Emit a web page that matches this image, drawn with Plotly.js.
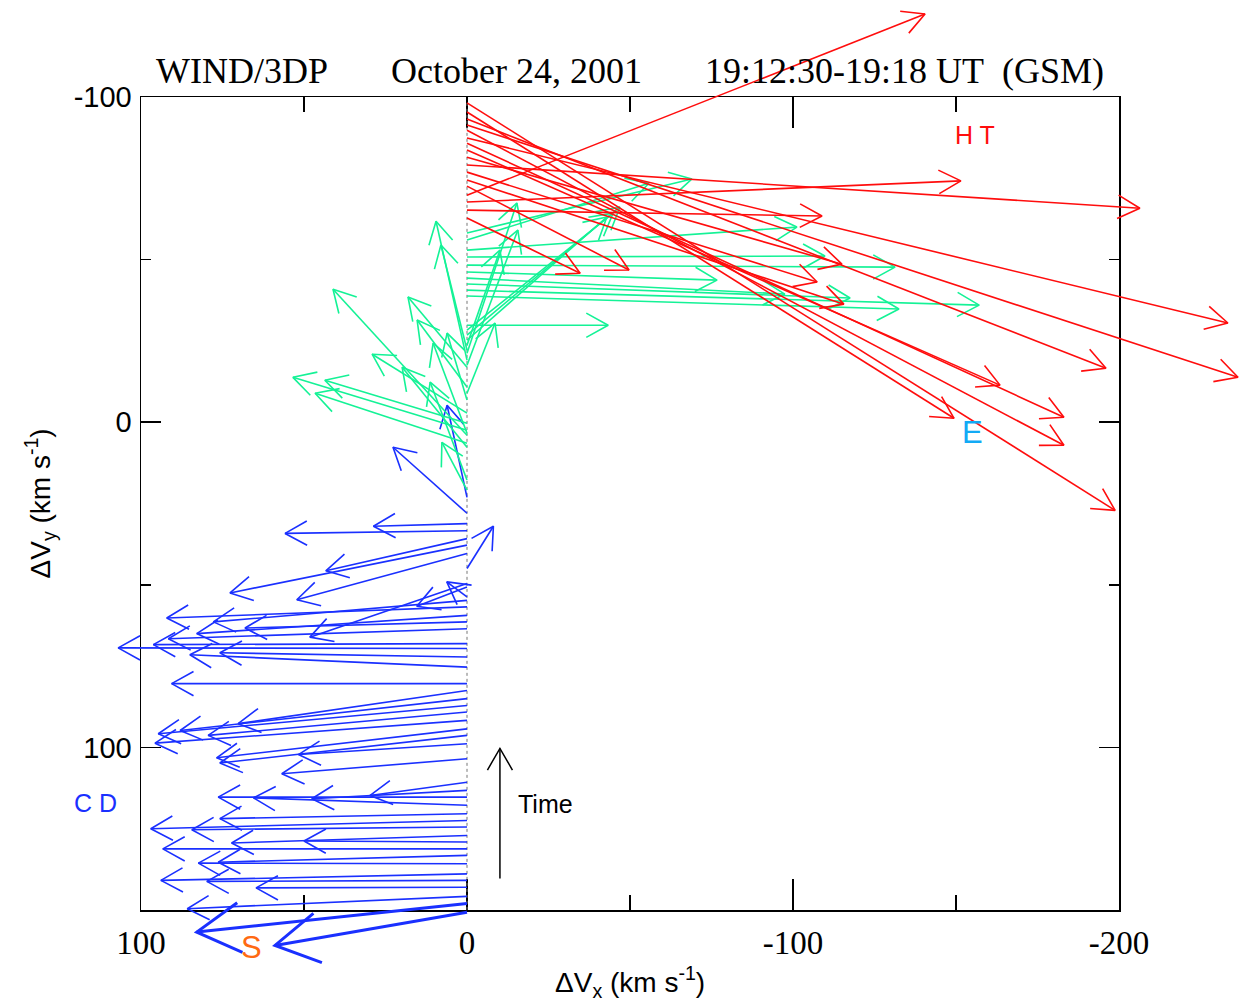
<!DOCTYPE html>
<html>
<head>
<meta charset="utf-8">
<script src="https://cdn.plot.ly/plotly-3.0.1.min.js"></script>
<style>html,body{margin:0;padding:0;background:#fff;}</style>
</head>
<body>
<div id="chart" style="width:1243px;height:1006px;"></div>
<script>
// ---------------- data ----------------
// every arrow starts at dVx = 0 (the time column) at tailY, ends at (headX, headY)
const redTailY  = [-98.2,-95.4,-93.2,-91.4,-89.8,-87.4,-85.8,-83.7,-81.5,-79.1,-76.9,-74.5,-72.6,-69.8,-67.7,-65.2,-62.8];
const redHeadX  = [-198.8,-149.4,-196.0,-236.5,-183.1,-233.4,-183.1,-163.5,-115.0,-206.4,-107.4,-115.6,-49.7,-140.5,-151.5,-108.9,-34.7];
const redHeadY  = [27.1,-1.2,-16.6,-13.8,7.1,-30.5,-1.5,-11.4,-48.6,-65.8,-43.1,-36.3,-46.8,-125.5,-74.2,-63.4,-45.8];

const greenTailY = [-58.2,-56.0,-52.9,-50.8,-48.3,-46.2,-44.3,-42.5,-40.6,-38.8,-29.8,-26.8,-28.3,-25.2,-21.2,-17.5,-23.7,-8.9,-19.1,-22.2,-16.9,4.0,-10.8,-6.8,-2.8,3.4,7.7,2.5,0.3,6.5,17.8,20.9];
const greenHeadX = [-69.0,-55.8,-101.2,-109.8,-131.3,-76.7,-97.5,-117.5,-157.1,-132.5,-43.3,-46.9,-44.8,-42.9,-15.3,-15.6,-10.1,-8.6,9.5,8.0,18.1,41.1,15.3,6.1,29.1,10.4,19.9,53.4,43.6,46.6,11.3,7.7];
const greenHeadY = [-74.8,-73.5,-60.0,-51.1,-47.7,-43.7,-39.4,-38.2,-36.0,-34.8,-29.8,-66.2,-64.3,-63.1,-67.4,-59.1,-52.9,-30.5,-61.8,-54.5,-38.5,-40.9,-31.4,-27.4,-20.9,-24.3,-16.9,-13.8,-12.9,-8.9,-12.3,6.2];

const blueTailY = [23.1,28.0,31.2,33.4,45.0,35.8,37.8,40.4,50.7,53.7,56.8,54.8,59.4,61.4,68.1,63.5,49.6,69.6,75.3,72.2,
                   80.4,82.5,85.0,87.1,89.1,91.7,98.9,94.3,96.3,103.5,110.7,113.2,115.3,117.8,120.4,122.5,124.5,129.1,127.1,131.2,133.2,135.8,138.9,140.9,143.0,145.8];
const blueHeadX = [6.1,22.7,28.7,55.8,-8.1,43.3,72.7,52.2,15.4,6.2,92.1,77.8,82.9,68.1,96.2,91.6,48.2,107.0,85.0,75.8,
                   90.6,70.2,88.0,94.7,79.4,95.7,51.7,76.8,75.8,56.8,29.8,47.6,76.3,65.5,75.8,97.0,84.4,50.0,72.2,93.3,76.3,82.4,93.9,79.8,64.7,85.8];
const blueHeadY = [-5.2,7.7,32.0,34.2,32.0,45.7,52.5,54.6,56.6,49.1,60.2,61.4,65.0,63.3,68.4,66.6,66.1,69.4,71.5,70.9,
                   80.4,92.7,94.8,95.8,96.3,98.7,102.2,103.2,104.8,108.1,114.8,115.8,115.3,115.5,121.9,125.0,125.3,128.8,129.4,131.2,135.3,135.6,140.9,141.2,143.2,149.6];

// thick "S" arrows
const sTailY = [148.0,150.7];
const sHeadX = [82.9,58.9];
const sHeadY = [156.8,160.9];

// "Time" arrow
const timeX = [-10.1];
const timeY0 = [140.3];
const timeY1 = [100.3];

// ticks
const xTickVals = [100,0,-100,-200];
const xTickText = ['100','0','-100','-200'];
const yTickVals = [-100,0,100];
const yTickText = ['-100','0','100'];
const xMinorVals = [50,-50,-150];
const yMinorVals = [-50,50];

// text labels
const labelText  = ['H T','E','C D','S','Time'];
const labelX     = [-155.8,-155.0,114.1,66.0,-15.0];
const labelY     = [-88.3,3.1,117.2,161.6,117.5];

// ---------------- geometry ----------------
const W = 1243, H = 1006;
const FL = 141, FR = 1119, FT = 97, FB = 910;   // frame in px
const XR = [100,-200], YR = [150,-100];
const kx = (FR-FL)/(XR[1]-XR[0]);
const ky = (FT-FB)/(YR[1]-YR[0]);
const toPx = v => FL + (v-XR[0])*kx, fromPx = p => XR[0] + (p-FL)/kx;
const toPy = v => FB + (v-YR[0])*ky, fromPy = p => YR[0] + (p-FB)/ky;

function arrowPath(tx, ty, hx, hy, L, angDeg) {
  const xs = [], ys = [];
  const a = angDeg*Math.PI/180;
  for (let i=0;i<hx.length;i++){
    const x0=toPx(tx[i]), y0=toPy(ty[i]), x1=toPx(hx[i]), y1=toPy(hy[i]);
    const dx=x1-x0, dy=y1-y0, d=Math.hypot(dx,dy)||1;
    const bx=-dx/d, by=-dy/d;
    const arms=[1,-1].map(s=>{
      const c=Math.cos(s*a), sn=Math.sin(s*a);
      return [x1+L*(bx*c-by*sn), y1+L*(bx*sn+by*c)];
    });
    xs.push(tx[i], hx[i], null, fromPx(arms[0][0]), hx[i], fromPx(arms[1][0]), null);
    ys.push(ty[i], hy[i], null, fromPy(arms[0][1]), hy[i], fromPy(arms[1][1]), null);
  }
  return {xs, ys};
}
const zeros = n => new Array(n).fill(0);

function arrowTrace(name, tailX, tailY, headX, headY, color, width, L, ang){
  const p = arrowPath(tailX, tailY, headX, headY, L, ang);
  return {type:'scatter', mode:'lines', name, x:p.xs, y:p.ys, xaxis:'x2', yaxis:'y2',
          line:{color, width}, hoverinfo:'skip', showlegend:false, connectgaps:false};
}

const RED='#ff0d0d', GREEN='#14f296', BLUE='#1a30ff', SKY='#12aaf5', ORANGE='#ff6a12';

const traces = [
  {type:'scatter', mode:'lines', x:[], y:[], xaxis:'x', yaxis:'y', showlegend:false, hoverinfo:'skip'},
  arrowTrace('blue', zeros(blueTailY.length), blueTailY, blueHeadX, blueHeadY, BLUE, 1.6, 25, 29),
  arrowTrace('green', zeros(greenTailY.length), greenTailY, greenHeadX, greenHeadY, GREEN, 1.6, 25, 29),
  arrowTrace('red', zeros(redTailY.length), redTailY, redHeadX, redHeadY, RED, 1.6, 25, 28),
  arrowTrace('S', zeros(sTailY.length), sTailY, sHeadX, sHeadY, BLUE, 3, 50, 30),
  arrowTrace('time', timeX, timeY0, timeX, timeY1, '#000', 1.5, 25, 30)
];

const allTails = redTailY.concat(greenTailY, blueTailY, sTailY);

const labelColors = [RED, SKY, BLUE, ORANGE, '#000'];
const labelSizes  = [25, 31, 25, 31, 25];
const annotations = labelText.map((t,i)=>({
  xref:'x2', yref:'y2', x:labelX[i], y:labelY[i], text:t, showarrow:false,
  xanchor: t==='Time' ? 'left' : 'center', yanchor:'middle',
  font:{family:'Liberation Sans, Arial, sans-serif', size:labelSizes[i], color:labelColors[i]}
}));
annotations.push({
  xref:'paper', yref:'paper', x:(FL+FR)/2/W, y:1-982/H, xanchor:'center', yanchor:'middle',
  text:'ΔV<sub>x</sub> (km s<sup>-1</sup>)', showarrow:false,
  font:{family:'Liberation Sans, Arial, sans-serif', size:28, color:'#000'}
});
annotations.push({
  xref:'paper', yref:'paper', x:40/W, y:1-(FT+FB)/2/H, xanchor:'center', yanchor:'middle', textangle:-90,
  text:'ΔV<sub>y</sub> (km s<sup>-1</sup>)', showarrow:false,
  font:{family:'Liberation Sans, Arial, sans-serif', size:28, color:'#000'}
});

const nb = n => '\u00a0'.repeat(n);
const layout = {
  width:W, height:H,
  margin:{l:0,r:0,t:0,b:0,pad:0},
  paper_bgcolor:'#fff', plot_bgcolor:'rgba(0,0,0,0)',
  showlegend:false,
  title:{text:'WIND/3DP'+nb(7)+'October 24, 2001'+nb(7)+'19:12:30-19:18 UT'+nb(2)+'(GSM)',
         x:(FL+FR)/2/W, xanchor:'center', y:1-70/H, yanchor:'middle', yref:'container', xref:'container',
         font:{family:'Liberation Serif, Times New Roman, serif', size:36, color:'#000'}},
  xaxis:{domain:[FL/W, FR/W], range:XR, anchor:'y', showgrid:false, zeroline:false,
         showline:true, linecolor:'#000', linewidth:1.5, mirror:'ticks',
         ticks:'inside', ticklen:31, tickwidth:1.5, tickcolor:'#000',
         tickmode:'array', tickvals:xTickVals, ticktext:xTickText, ticklabelstandoff:3,
         tickfont:{family:'Liberation Serif, Times New Roman, serif', size:33, color:'#000'},
         minor:{tickmode:'array', tickvals:xMinorVals, ticks:'inside', ticklen:15, tickwidth:1.5, tickcolor:'#000', showgrid:false},
         fixedrange:true},
  yaxis:{domain:[(H-FB)/H, (H-FT)/H], range:YR, anchor:'x', showgrid:false, zeroline:false,
         showline:true, linecolor:'#000', linewidth:1.5, mirror:'ticks',
         ticks:'inside', ticklen:20, tickwidth:1.5, tickcolor:'#000',
         tickmode:'array', tickvals:yTickVals, ticktext:yTickText, ticklabelstandoff:2,
         tickfont:{family:'Liberation Sans, Arial, sans-serif', size:29, color:'#000'},
         minor:{tickmode:'array', tickvals:yMinorVals, ticks:'inside', ticklen:10, tickwidth:1.5, tickcolor:'#000', showgrid:false},
         fixedrange:true},
  xaxis2:{domain:[0,1], anchor:'y2', range:[fromPx(0), fromPx(W)], visible:false, fixedrange:true},
  yaxis2:{domain:[0,1], anchor:'x2', range:[fromPy(H), fromPy(0)], visible:false, fixedrange:true},
  shapes:[{type:'line', xref:'x2', yref:'y2', x0:0, x1:0,
           y0:Math.min(...allTails), y1:Math.max(...allTails),
           line:{color:'#777', width:1, dash:'dot'}, layer:'below'}],
  annotations
};

Plotly.newPlot('chart', traces, layout, {displayModeBar:false, staticPlot:true});
</script>
</body>
</html>
